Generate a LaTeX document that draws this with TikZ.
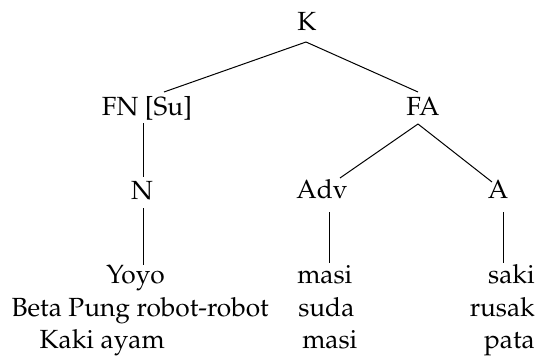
\documentclass[tikz,border=0pt]{standalone}
\usepackage[T1]{fontenc}
\usepackage{mathpazo}
\usepackage{tikz}

\begin{document}
\begin{tikzpicture}[x=0.75pt,y=0.75pt,yscale=-1,xscale=1,
  lbl/.style={inner sep=0pt,font=\fontsize{19.7}{23}\selectfont},
  branch/.style={line width=0.75}]
\path[use as bounding box] (0,0) rectangle (539,360);

% Text Node
\node (k) [lbl,anchor=base] at (307,31) {K};
% Text Node
\node (fn) [lbl,anchor=base] at (147,115) {FN [Su]};
% Text Node
\node (fa) [lbl,anchor=base] at (423,115) {FA};
% Text Node
\node (n) [lbl,anchor=base] at (142,199) {N};
% Text Node
\node (adv) [lbl,anchor=base] at (322,198) {Adv};
% Text Node
\node (a) [lbl,anchor=base] at (498,198) {A};

% Text Node
\node (yoyo) [lbl,anchor=base east] at (165,283) {Yoyo};
\node (masiA) [lbl,anchor=base west] at (297,283) {masi};
\node (saki) [lbl,anchor=base east] at (535,283) {saki};
% Text Node
\node (beta) [lbl,anchor=base east] at (269,316) {Beta Pung robot-robot};
\node (suda) [lbl,anchor=base west] at (298,316) {suda};
\node (rusak) [lbl,anchor=base east] at (535,316) {rusak};
% Text Node
\node (kaki) [lbl,anchor=base east] at (165,348) {Kaki ayam};
\node (masiB) [lbl,anchor=base west] at (302,348) {masi};
\node (pata) [lbl,anchor=base east] at (535,348) {pata};

%Straight Lines
\draw [branch] ([shift={(-0.75pt,8.25pt)}]k.base) -- ([shift={(12.75pt,-17.25pt)}]fn.base);
\draw [branch] ([shift={(-0.75pt,8.25pt)}]k.base) -- ([shift={(-3.75pt,-17.25pt)}]fa.base);
%Straight Lines
\draw [branch] ([shift={(-3pt,6pt)}]fn.base) -- ([shift={(0.75pt,-16.5pt)}]n.base);
\draw [branch] ([shift={(-3.75pt,6.75pt)}]fa.base) -- ([shift={(13.5pt,-15pt)}]adv.base);
\draw [branch] ([shift={(-3.75pt,6.75pt)}]fa.base) -- ([shift={(-4.5pt,-12pt)}]a.base);
%Straight Lines
\draw [branch] ([shift={(0.75pt,6.75pt)}]n.base) -- ([shift={(-16.5pt,-13.5pt)}]yoyo.base east);
\draw [branch] ([shift={(5.25pt,10.5pt)}]adv.base) -- ([shift={(24pt,-15pt)}]masiA.base west);
\draw [branch] ([shift={(3.75pt,10.5pt)}]a.base) -- ([shift={(-24pt,-15pt)}]saki.base east);

\end{tikzpicture}
\end{document}
